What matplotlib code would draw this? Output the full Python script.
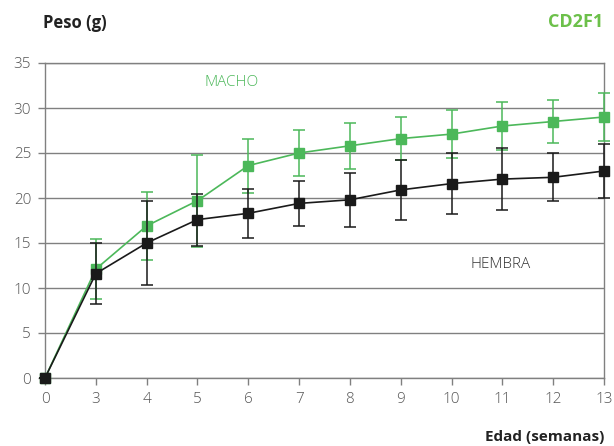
import matplotlib
matplotlib.use("Agg")
import matplotlib.pyplot as plt

weeks = ["0", "3", "4", "5", "6", "7", "8", "9", "10", "11", "12", "13"]
macho = [0, 12.1, 16.9, 19.7, 23.6, 25.0, 25.8, 26.6, 27.1, 28.0, 28.5, 29.0]
macho_err = [0, 3.3, 3.8, 5.1, 3.0, 2.6, 2.55, 2.4, 2.65, 2.7, 2.4, 2.7]
hembra = [0, 11.6, 15.0, 17.6, 18.3, 19.4, 19.8, 20.9, 21.6, 22.1, 22.3, 23.0]
hembra_err = [0, 3.35, 4.65, 2.9, 2.7, 2.5, 3.0, 3.3, 3.4, 3.45, 2.65, 3.0]
yticks = [0, 5, 10, 15, 20, 25, 30, 35]

GREEN = "#4cb85a"
TITLE_GREEN = "#6cc04a"
BLACK = "#1a1a1a"
GRAY = "#808080"

plt.rcParams['font.family'] = ['Open Sans', 'DejaVu Sans']

fig = plt.figure(figsize=(6.14, 4.46), dpi=100)
ax = fig.add_axes([45/614, 1-378/446, (604-45)/614, (378-63)/446])

x = list(range(len(weeks)))
ax.errorbar(x, macho, yerr=macho_err, color=GREEN, marker='s', markersize=7,
            linewidth=1.2, elinewidth=1.1, capsize=4, capthick=1.1, zorder=3,
            clip_on=False)
ax.errorbar(x, hembra, yerr=hembra_err, color=BLACK, marker='s', markersize=7,
            linewidth=1.2, elinewidth=1.1, capsize=4, capthick=1.1, zorder=4,
            clip_on=False)

ax.set_xlim(0, len(weeks) - 1)
ax.set_ylim(0, 35)
ax.set_xticks(x)
ax.set_xticklabels(weeks)
ax.set_yticks(yticks)
ax.yaxis.grid(True, color=GRAY, linewidth=1.0)
ax.set_axisbelow(True)
for s in ['top', 'right', 'left', 'bottom']:
    ax.spines[s].set_color(GRAY)
    ax.spines[s].set_linewidth(1.0)
ax.tick_params(axis='both', colors=GRAY, labelcolor="#555555", labelsize=11,
               length=5, width=1.0, pad=5)
for lab in ax.get_xticklabels() + ax.get_yticklabels():
    lab.set_fontweight('light')

ax.text(3.68, 32.8, "MACHO", color=GREEN, fontsize=11, ha='center', va='center',
        fontweight='light')
ax.text(8.96, 12.6, "HEMBRA", color="#333333", fontsize=11, ha='center', va='center',
        fontweight='light')

fig.text(43/614, 1-23/446, "Peso (g)", fontsize=12, fontweight='bold',
         color="#222222", ha='left', va='center')
fig.text(603/614, 1-22/446, "CD2F1", fontsize=13, fontweight='bold',
         color=TITLE_GREEN, ha='right', va='center')
fig.text(604/614, 1-437/446, "Edad (semanas)", fontsize=11, fontweight='bold',
         color="#222222", ha='right', va='center')

fig.savefig("out.png", dpi=100)
